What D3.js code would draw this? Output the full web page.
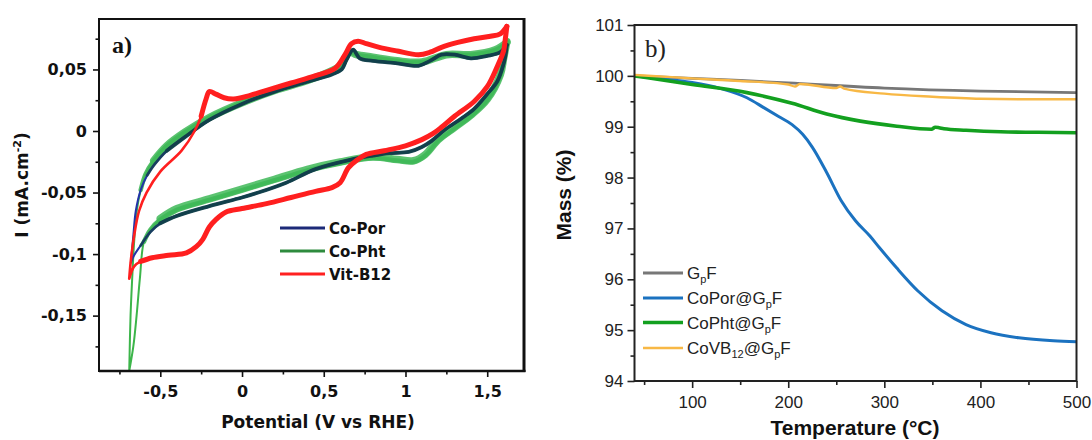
<!DOCTYPE html>
<html>
<head>
<meta charset="utf-8">
<script src="https://cdn.jsdelivr.net/npm/d3@7"></script>
<style>
  html, body { margin: 0; padding: 0; background: #fff; }
  svg { display: block; }
</style>
</head>
<body>
<svg id="chart" width="1092" height="440"></svg>
<script>
// ---------- Panel a) cyclic voltammograms: [potential V vs RHE, current mA/cm2] ----------
const cvXTicks = [-0.5, 0, 0.5, 1, 1.5];
const cvXMinor = [-0.75, -0.25, 0.25, 0.75, 1.25];
const cvYTicks = [-0.15, -0.1, -0.05, 0, 0.05];
const cvYMinor = [-0.175, -0.125, -0.075, -0.025, 0.025, 0.075];
const cvNames = ["Co-Por", "Co-Pht", "Vit-B12"];

const coPorCV = [
  [-0.68, -0.107], [-0.665, -0.085], [-0.65, -0.065], [-0.62, -0.048], [-0.58, -0.036],
  [-0.54, -0.028], [-0.46, -0.016], [-0.35, -0.005], [-0.2, 0.009], [0, 0.022],
  [0.2, 0.032], [0.4, 0.040], [0.55, 0.046], [0.61, 0.050], [0.64, 0.058],
  [0.68, 0.066], [0.72, 0.059], [0.8, 0.057], [0.95, 0.055], [1.08, 0.053],
  [1.15, 0.057], [1.22, 0.062], [1.3, 0.062], [1.4, 0.059], [1.5, 0.061],
  [1.58, 0.064], [1.62, 0.070],
  [1.61, 0.060], [1.59, 0.050], [1.56, 0.040], [1.5, 0.030], [1.42, 0.018],
  [1.34, 0.010], [1.24, 0.001], [1.16, -0.008], [1.1, -0.013], [1.02, -0.017],
  [0.9, -0.018], [0.8, -0.020], [0.66, -0.0235], [0.45, -0.031], [0.27, -0.042],
  [0.1, -0.050], [0, -0.054], [-0.2, -0.061], [-0.4, -0.069], [-0.5, -0.075],
  [-0.56, -0.082], [-0.62, -0.093], [-0.66, -0.101], [-0.68, -0.107]
];

const coPhtCV = [
  [-0.69, -0.195], [-0.682, -0.15], [-0.672, -0.12], [-0.66, -0.09], [-0.645, -0.066],
  [-0.62, -0.048], [-0.59, -0.035], [-0.54, -0.024], [-0.46, -0.012], [-0.35, -0.001],
  [-0.2, 0.011], [0, 0.023], [0.2, 0.033], [0.4, 0.041], [0.55, 0.049],
  [0.6, 0.053], [0.66, 0.064], [0.7, 0.062], [0.8, 0.060], [0.95, 0.057],
  [1.1, 0.056], [1.25, 0.062], [1.4, 0.062], [1.55, 0.066], [1.62, 0.072],
  [1.6, 0.058], [1.58, 0.045], [1.5, 0.025], [1.4, 0.012], [1.3, 0.002],
  [1.2, -0.008], [1.12, -0.020], [1.05, -0.025], [0.95, -0.024], [0.8, -0.022],
  [0.6, -0.026], [0.4, -0.032], [0.2, -0.040], [0, -0.048], [-0.2, -0.056],
  [-0.4, -0.064], [-0.5, -0.072], [-0.56, -0.080], [-0.6, -0.090], [-0.625, -0.120],
  [-0.645, -0.150], [-0.665, -0.175], [-0.69, -0.195]
];

const vitB12CV = [
  [-0.69, -0.120], [-0.68, -0.105], [-0.66, -0.085], [-0.63, -0.065], [-0.584, -0.050],
  [-0.5, -0.033], [-0.37, -0.016], [-0.29, 0.000], [-0.25, 0.012], [-0.22, 0.026],
  [-0.2, 0.032], [-0.16, 0.030], [-0.11, 0.027], [-0.05, 0.026], [0.05, 0.029],
  [0.15, 0.033], [0.3, 0.039], [0.45, 0.045], [0.57, 0.051], [0.63, 0.062],
  [0.67, 0.071], [0.71, 0.073], [0.76, 0.071], [0.84, 0.068], [0.95, 0.065],
  [1.08, 0.062], [1.15, 0.064], [1.22, 0.068], [1.32, 0.072], [1.42, 0.075],
  [1.52, 0.077], [1.58, 0.079], [1.62, 0.085],
  [1.61, 0.074], [1.6, 0.065], [1.56, 0.052], [1.5, 0.036], [1.42, 0.024],
  [1.3, 0.012], [1.22, 0.003], [1.17, -0.002], [1.1, -0.007], [1.0, -0.012],
  [0.87, -0.016], [0.76, -0.019], [0.7, -0.024], [0.65, -0.030], [0.6, -0.042],
  [0.55, -0.046], [0.45, -0.049], [0.3, -0.054], [0.15, -0.059], [0.0, -0.063],
  [-0.1, -0.066], [-0.16, -0.072], [-0.2, -0.078], [-0.24, -0.088], [-0.28, -0.094],
  [-0.34, -0.099], [-0.45, -0.101], [-0.55, -0.103], [-0.62, -0.106], [-0.66, -0.110],
  [-0.69, -0.120]
];

// ---------- Panel b) thermogravimetric curves ----------
const tgaXTicks = [100, 200, 300, 400, 500];
const tgaXMinor = [50, 150, 250, 350, 450];
const tgaYTicks = [94, 95, 96, 97, 98, 99, 100, 101];
const tgaYMinor = [94.5, 95.5, 96.5, 97.5, 98.5, 99.5, 100.5];

const gpfTemp = [40, 100, 150, 200, 300, 400, 500];
const gpfMass = [100, 99.95, 99.91, 99.86, 99.76, 99.70, 99.67];

const coPorTemp = [40, 70, 100, 130, 157, 175, 190, 204, 215, 225, 240, 255, 270, 285, 295, 313, 335, 360, 385, 411, 440, 476, 500];
const coPorMass = [100, 99.94, 99.87, 99.75, 99.57, 99.37, 99.20, 99.04, 98.85, 98.60, 98.10, 97.55, 97.15, 96.85, 96.62, 96.22, 95.77, 95.38, 95.11, 94.95, 94.85, 94.79, 94.77];

const coPhtTemp = [40, 100, 157, 204, 240, 275, 313, 349, 353, 357, 362, 385, 421, 460, 500];
const coPhtMass = [100, 99.83, 99.67, 99.46, 99.25, 99.11, 99.01, 98.95, 98.99, 98.98, 98.96, 98.93, 98.90, 98.89, 98.88];

const coVBTemp = [40, 100, 150, 200, 207, 212, 250, 254, 258, 300, 350, 400, 450, 500];
const coVBMass = [100.02, 99.95, 99.90, 99.83, 99.79, 99.84, 99.76, 99.79, 99.75, 99.65, 99.59, 99.55, 99.54, 99.54];

// ---------- drawing ----------
const svg = d3.select("#chart");
svg.append("rect").attr("width", 1092).attr("height", 440).attr("fill", "#fff");

const commaFmt = d => String(d).replace(".", ",");

// ===== Panel a =====
const A = { left: 99, right: 524, top: 19, bottom: 371 };
const xA = d3.scaleLinear().domain([-0.875, 1.725]).range([A.left, A.right]);
const yA = d3.scaleLinear().domain([-0.195, 0.091]).range([A.bottom, A.top]);
const fontA = "'DejaVu Sans', sans-serif";

const gA = svg.append("g");
gA.append("defs").append("clipPath").attr("id", "clipA")
  .append("rect").attr("x", A.left).attr("y", A.top)
  .attr("width", A.right - A.left).attr("height", A.bottom - A.top);

function styleAxis(g, font, size, weight, color) {
  g.select(".domain").remove();
  g.selectAll(".tick line").attr("stroke", color).attr("stroke-width", 1.6);
  g.selectAll(".tick text").attr("font-family", font).attr("font-size", size)
    .attr("font-weight", weight).attr("fill", color);
}

gA.append("g").attr("transform", `translate(0,${A.bottom})`)
  .call(d3.axisBottom(xA).tickValues(cvXTicks).tickFormat(commaFmt).tickSizeInner(6).tickSizeOuter(0).tickPadding(9))
  .call(g => styleAxis(g, fontA, 16, "bold", "#111"));
gA.append("g").attr("transform", `translate(0,${A.bottom})`)
  .call(d3.axisBottom(xA).tickValues(cvXMinor).tickFormat("").tickSizeInner(3.5).tickSizeOuter(0))
  .call(g => styleAxis(g, fontA, 16, "bold", "#111"));
gA.append("g").attr("transform", `translate(${A.left},0)`)
  .call(d3.axisLeft(yA).tickValues(cvYTicks).tickFormat(commaFmt).tickSizeInner(6).tickSizeOuter(0).tickPadding(6))
  .call(g => styleAxis(g, fontA, 16, "bold", "#111"));
gA.append("g").attr("transform", `translate(${A.left},0)`)
  .call(d3.axisLeft(yA).tickValues(cvYMinor).tickFormat("").tickSizeInner(3.5).tickSizeOuter(0))
  .call(g => styleAxis(g, fontA, 16, "bold", "#111"));

const lineA = d3.line().x(d => xA(d[0])).y(d => yA(d[1])).curve(d3.curveCatmullRom.alpha(0.5));
const curvesA = gA.append("g").attr("clip-path", "url(#clipA)");

// split a voltammogram into its anodic (forward) and cathodic (reverse) sweeps
function sweeps(cv) {
  let turn = 0;
  cv.forEach((p, i) => { if (p[0] > cv[turn][0]) turn = i; });
  return { fwd: cv.slice(0, turn + 1), rev: cv.slice(turn) };
}
// repeated cycles spread out into a broad band away from the steep cathodic edge
function bandParts(cv, fwdFrom, revFrom) {
  const s = sweeps(cv);
  return [s.fwd.filter(p => p[0] >= fwdFrom), s.rev.filter(p => p[0] >= revFrom)];
}
function stroke(data, color, width, opacity, dy) {
  curvesA.append("path").datum(data).attr("d", lineA)
    .attr("transform", `translate(0,${dy || 0})`)
    .attr("fill", "none").attr("stroke", color).attr("stroke-width", width)
    .attr("stroke-opacity", opacity || 1)
    .attr("stroke-linejoin", "round").attr("stroke-linecap", "round");
}

// Co-Pht: thin trace plus light broad band, tapering towards the cathodic edge
stroke(coPhtCV, "#3cb54a", 2);
bandParts(coPhtCV, -0.64, -0.62).forEach(p => stroke(p, "#40b858", 4.5, 0.9));
bandParts(coPhtCV, -0.56, -0.55).forEach((p, k) => stroke(p, "#40b858", 7.5, 0.85, k ? -1 : 0));
// Co-Por: thin trace plus dark core where it overlays the Co-Pht band
stroke(coPorCV, "#2233a8", 2);
bandParts(coPorCV, -0.6, -0.62).forEach(p => stroke(p, "#163e58", 2.8, 0.9));
bandParts(coPorCV, -0.52, -0.54).forEach(p => stroke(p, "#113f4a", 3.8, 0.95));
// Vit-B12
stroke(vitB12CV, "#ff1f1f", 2.6);
bandParts(vitB12CV, -0.26, -0.64).forEach(p => stroke(p, "#ff1f1f", 5));

// frame
gA.append("line").attr("x1", A.left).attr("x2", A.right).attr("y1", A.top).attr("y2", A.top)
  .attr("stroke", "#111").attr("stroke-width", 2);
gA.append("line").attr("x1", A.left).attr("x2", A.left).attr("y1", A.top - 1).attr("y2", A.bottom + 1)
  .attr("stroke", "#111").attr("stroke-width", 2);
gA.append("line").attr("x1", A.left).attr("x2", A.right + 1.5).attr("y1", A.bottom).attr("y2", A.bottom)
  .attr("stroke", "#111").attr("stroke-width", 2.5);
gA.append("line").attr("x1", A.right).attr("x2", A.right).attr("y1", A.top - 1).attr("y2", A.bottom + 1)
  .attr("stroke", "#111").attr("stroke-width", 3);

// legend
const cvColors = ["#1c2a78", "#2e8b3e", "#ff2020"];
const legA = gA.append("g");
cvNames.forEach((n, i) => {
  const y = 228 + i * 23;
  legA.append("line").attr("x1", 280).attr("x2", 325).attr("y1", y).attr("y2", y)
    .attr("stroke", cvColors[i]).attr("stroke-width", 3);
  legA.append("text").attr("x", 329).attr("y", y + 5.5).text(n)
    .attr("font-family", fontA).attr("font-weight", "bold").attr("font-size", 15).attr("fill", "#111");
});

// labels
gA.append("text").attr("x", 112).attr("y", 53).text("a)")
  .attr("font-family", "'Liberation Serif', serif").attr("font-weight", "bold")
  .attr("font-size", 24).attr("fill", "#111");
gA.append("text").attr("x", 318).attr("y", 428).attr("text-anchor", "middle")
  .text("Potential (V vs RHE)")
  .attr("font-family", fontA).attr("font-weight", "bold").attr("font-size", 17).attr("fill", "#111");
const yTitleA = gA.append("text").attr("transform", "translate(28,185) rotate(-90)")
  .attr("text-anchor", "middle")
  .attr("font-family", fontA).attr("font-weight", "bold").attr("font-size", 17).attr("fill", "#111");
yTitleA.append("tspan").text("I (mA.cm");
yTitleA.append("tspan").attr("dy", -7).attr("font-size", 11).text("-2");
yTitleA.append("tspan").attr("dy", 7).text(")");

// ===== Panel b =====
const B = { left: 634.5, right: 1076.5, top: 25, bottom: 381 };
const xB = d3.scaleLinear().domain([40, 500]).range([B.left, B.right]);
const yB = d3.scaleLinear().domain([94, 101]).range([B.bottom, B.top]);
const fontB = "Arial, 'Liberation Sans', sans-serif";

const gB = svg.append("g");
gB.append("g").attr("transform", `translate(0,${B.bottom})`)
  .call(d3.axisBottom(xB).tickValues(tgaXTicks).tickFormat(d3.format("d")).tickSizeInner(7).tickSizeOuter(0).tickPadding(8))
  .call(g => styleAxis(g, fontB, 17, "normal", "#222"));
gB.append("g").attr("transform", `translate(0,${B.bottom})`)
  .call(d3.axisBottom(xB).tickValues(tgaXMinor).tickFormat("").tickSizeInner(4).tickSizeOuter(0))
  .call(g => styleAxis(g, fontB, 17, "normal", "#222"));
gB.append("g").attr("transform", `translate(${B.left},0)`)
  .call(d3.axisLeft(yB).tickValues(tgaYTicks).tickFormat(d3.format("d")).tickSizeInner(7).tickSizeOuter(0).tickPadding(4))
  .call(g => styleAxis(g, fontB, 17, "normal", "#222"));
gB.append("g").attr("transform", `translate(${B.left},0)`)
  .call(d3.axisLeft(yB).tickValues(tgaYMinor).tickFormat("").tickSizeInner(4).tickSizeOuter(0))
  .call(g => styleAxis(g, fontB, 17, "normal", "#222"));

const lineB = d3.line().x(d => xB(d[0])).y(d => yB(d[1])).curve(d3.curveMonotoneX);
const tga = [
  { name: "GpF", temp: gpfTemp, mass: gpfMass, color: "#777777", w: 2.8 },
  { name: "CoPor", temp: coPorTemp, mass: coPorMass, color: "#1b72c0", w: 3 },
  { name: "CoPht", temp: coPhtTemp, mass: coPhtMass, color: "#13a01f", w: 3.6 },
  { name: "CoVB12", temp: coVBTemp, mass: coVBMass, color: "#f8b845", w: 2.4 }
];
tga.forEach(s => {
  gB.append("path").datum(s.temp.map((t, i) => [t, s.mass[i]])).attr("d", lineB)
    .attr("fill", "none").attr("stroke", s.color).attr("stroke-width", s.w)
    .attr("stroke-linejoin", "round");
});

gB.append("rect").attr("x", B.left).attr("y", B.top)
  .attr("width", B.right - B.left).attr("height", B.bottom - B.top)
  .attr("fill", "none").attr("stroke", "#222").attr("stroke-width", 2);

// legend with subscripts
const legRows = [
  [["G", false], ["p", true], ["F", false]],
  [["CoPor@G", false], ["p", true], ["F", false]],
  [["CoPht@G", false], ["p", true], ["F", false]],
  [["CoVB", false], ["12", true], ["@G", false], ["p", true], ["F", false]]
];
const legYs = [273, 298, 322.5, 348];
tga.forEach((s, i) => {
  const y = legYs[i];
  gB.append("line").attr("x1", 643).attr("x2", 683).attr("y1", y).attr("y2", y)
    .attr("stroke", s.color).attr("stroke-width", s.w);
  const t = gB.append("text").attr("x", 687).attr("y", y + 6)
    .attr("font-family", fontB).attr("font-size", 17).attr("fill", "#222");
  let sub = false;
  legRows[i].forEach(([txt, isSub]) => {
    const ts = t.append("tspan").text(txt);
    if (isSub && !sub) { ts.attr("dy", 4).attr("font-size", 11); sub = true; }
    else if (isSub) { ts.attr("font-size", 11); }
    else if (sub) { ts.attr("dy", -4); sub = false; }
  });
});

gB.append("text").attr("x", 645).attr("y", 57).text("b)")
  .attr("font-family", "'Liberation Serif', serif").attr("font-size", 25).attr("fill", "#222");
gB.append("text").attr("x", 855).attr("y", 435).attr("text-anchor", "middle")
  .text("Temperature (°C)")
  .attr("font-family", fontB).attr("font-weight", "bold").attr("font-size", 21).attr("fill", "#111");
gB.append("text").attr("transform", "translate(571,195) rotate(-90)").attr("text-anchor", "middle")
  .text("Mass (%)")
  .attr("font-family", fontB).attr("font-weight", "bold").attr("font-size", 21).attr("fill", "#111");
</script>
</body>
</html>
